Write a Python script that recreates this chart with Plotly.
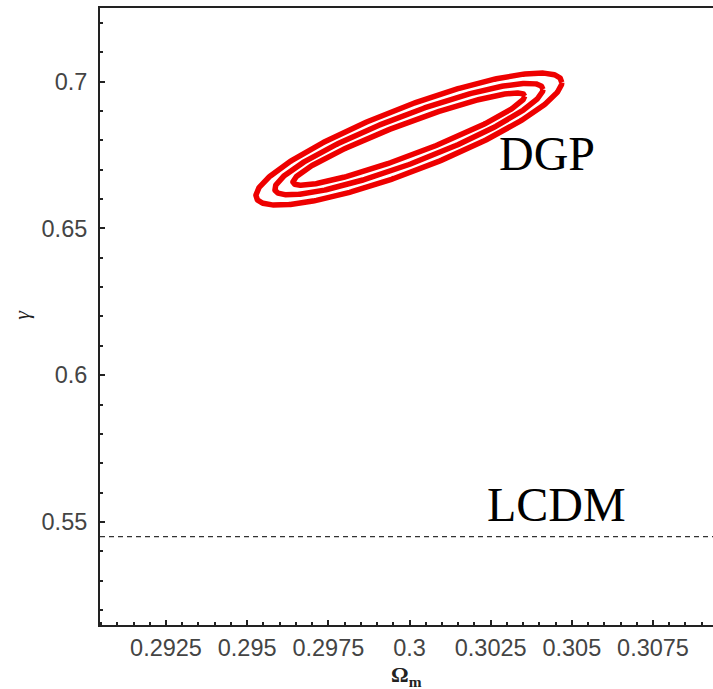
import numpy as np
import plotly.graph_objects as go

# ---- data ----
omega_ticks = [0.2925, 0.295, 0.2975, 0.3, 0.3025, 0.305, 0.3075]
omega_tick_labels = ["0.2925", "0.295", "0.2975", "0.3", "0.3025", "0.305", "0.3075"]
gamma_ticks = [0.55, 0.6, 0.65, 0.7]
gamma_tick_labels = ["0.55", "0.6", "0.65", "0.7"]

# DGP confidence contours (outer, middle, inner): centre and ellipse parameters
dgp_center_omega = 0.29998
dgp_center_gamma = 0.6804
contour_half_width_omega = [0.00471, 0.00413, 0.00357]   # half extent in Omega_m
contour_tilt_gamma = [0.01927, 0.01689, 0.01461]          # gamma offset at the Omega extremes
contour_half_height_gamma = [0.01158, 0.00868, 0.00579]   # gamma half extent at centre Omega

lcdm_gamma = 0.545
x_range = [0.290467, 0.309348]
y_range = [0.51493, 0.72503]

fig = go.Figure()

t = np.linspace(0, 2 * np.pi, 400)
for A, Bc, Bs in zip(contour_half_width_omega, contour_tilt_gamma, contour_half_height_gamma):
    fig.add_trace(go.Scatter(
        x=dgp_center_omega + A * np.cos(t),
        y=dgp_center_gamma + Bc * np.cos(t) + Bs * np.sin(t),
        mode="lines", line=dict(color="rgb(238,0,0)", width=5.5),
        hoverinfo="skip", showlegend=False))

fig.add_trace(go.Scatter(
    x=x_range, y=[lcdm_gamma, lcdm_gamma], mode="lines",
    line=dict(color="#333333", width=1.2, dash="5px,4px"),
    showlegend=False, hoverinfo="skip"))

fig.add_annotation(x=0.30269, y=0.6657, xref="x", yref="y", text="DGP",
                   showarrow=False, xanchor="left", yanchor="bottom",
                   font=dict(family="Liberation Serif", size=48, color="black"))
fig.add_annotation(x=0.30231, y=0.5462, xref="x", yref="y", text="LCDM",
                   showarrow=False, xanchor="left", yanchor="bottom",
                   font=dict(family="Liberation Serif", size=48, color="black"))

# axis titles
fig.add_annotation(x=0.5, y=-0.082, xref="paper", yref="paper",
                   text="<b>Ω<sub>m</sub></b>", showarrow=False,
                   xanchor="center", yanchor="middle",
                   font=dict(family="Liberation Serif", size=22, color="#222"))
fig.add_annotation(x=-0.128, y=0.502, xref="paper", yref="paper",
                   text="<i>γ</i>", showarrow=False, textangle=-90,
                   xanchor="center", yanchor="middle",
                   font=dict(family="Liberation Serif", size=22, color="#222"))

tickfont = dict(family="Liberation Sans", size=23.5, color="#444444")
fig.update_xaxes(range=x_range, tickmode="array", tickvals=omega_ticks,
                 ticktext=omega_tick_labels, ticks="inside", ticklen=5, tickwidth=1.5,
                 tickcolor="#222", showline=True, linecolor="#222", linewidth=2,
                 mirror=True, showgrid=False, zeroline=False, tickfont=tickfont,
                 automargin=False, ticklabelstandoff=1,
                 minor=dict(dtick=0.0005, ticks="inside", ticklen=3, tickwidth=1.5,
                            tickcolor="#222", showgrid=False))
fig.update_yaxes(range=y_range, tickmode="array", tickvals=gamma_ticks,
                 ticktext=gamma_tick_labels, ticks="inside", ticklen=5, tickwidth=1.5,
                 tickcolor="#222", showline=True, linecolor="#222", linewidth=2,
                 mirror=False, showgrid=False, zeroline=False, tickfont=tickfont,
                 automargin=False, ticklabelstandoff=6,
                 minor=dict(dtick=0.01, ticks="inside", ticklen=3, tickwidth=1.5,
                            tickcolor="#222", showgrid=False))

fig.update_layout(width=713, height=689, margin=dict(l=100, r=0, t=8, b=64),
                  plot_bgcolor="white", paper_bgcolor="white", showlegend=False)

# remove the default 8px page margin so the figure fills the window exactly
fig.write_html("out.html", config={"displayModeBar": False},
               post_script="document.body.style.margin='0';document.body.style.overflow='hidden';")
